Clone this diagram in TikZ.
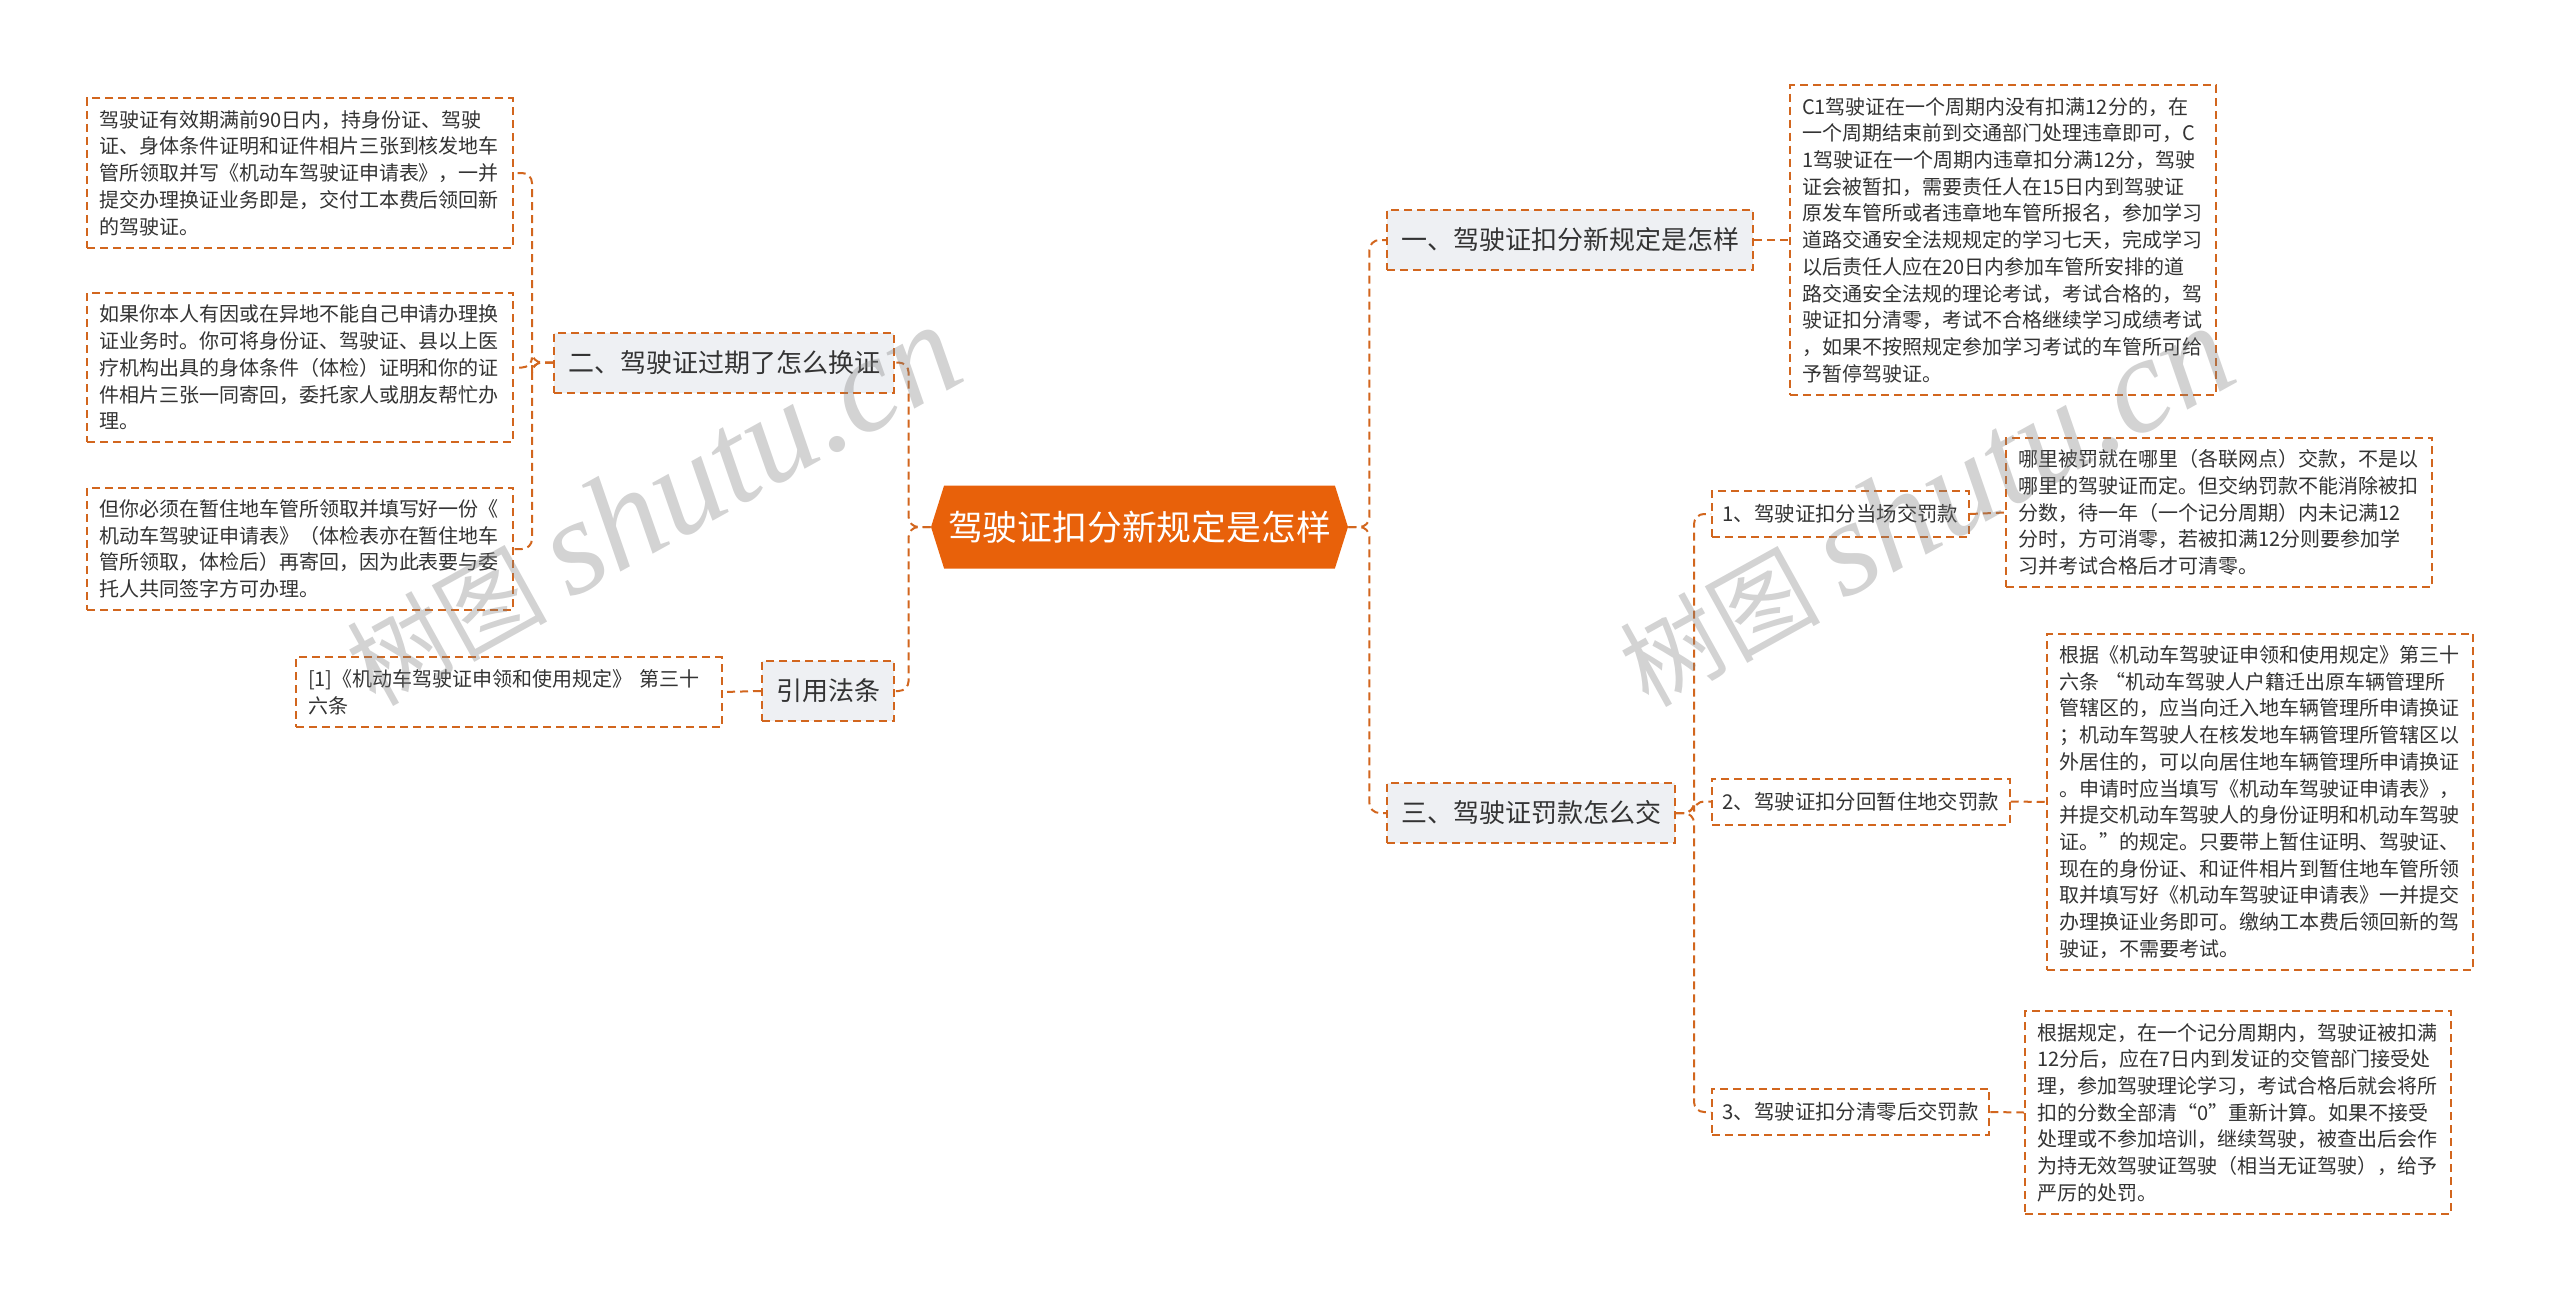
\documentclass[tikz,border=0pt]{standalone}
\usepackage{fontspec}
\setmainfont{Noto Sans CJK SC}
\newfontfamily\wmfont{Liberation Serif}
\usetikzlibrary{shapes.symbols}

\definecolor{lineorange}{HTML}{D2661E}
\definecolor{rootorange}{HTML}{E8610A}
\definecolor{branchgray}{HTML}{EEF0F3}
\definecolor{txtgray}{HTML}{333333}

\tikzset{
	dashline/.style={lineorange, line width=1pt, dash pattern=on 4pt off 2.5pt},
	link/.style={dashline, rounded corners=5pt},
	rootnode/.style={shape=signal, signal to=west and east, signal pointer angle=145,
		fill=rootorange, text=white, font=\fontsize{17.4}{20}\selectfont,
		minimum width=208pt, minimum height=41.5pt, inner xsep=2pt},
	branch/.style={draw, dashline, fill=branchgray, text=txtgray,
		font=\fontsize{13}{16}\selectfont, inner xsep=7pt, minimum height=30pt},
	subbranch/.style={draw, dashline, fill=white, text=txtgray,
		font=\fontsize{10.2}{12}\selectfont, inner xsep=5.3pt, minimum height=23pt},
	leaf/.style={draw, dashline, fill=white, text=txtgray, align=left,
		text width=201pt, font=\fontsize{10}{13.35}\selectfont, inner xsep=6pt, inner ysep=6pt},
	watermark/.style={text=gray, opacity=0.35, rotate=29}
}

\begin{document}
\begin{tikzpicture}[x=0.5pt,y=-0.5pt]
	\useasboundingbox (0,0) rectangle (2560,1301);

	\node[rootnode] (root) at (1139.5,527) {驾驶证扣分新规定是怎样};

	\node[branch, anchor=west] (b1) at (1386,240) {一、驾驶证扣分新规定是怎样};
	\node[branch, anchor=east] (b2) at (895,362.5) {二、驾驶证过期了怎么换证};
	\node[branch, anchor=west] (b3) at (1386,813) {三、驾驶证罚款怎么交};
	\node[branch, anchor=east] (b4) at (895,691) {引用法条};

	\node[leaf, anchor=east] (l1) at (514,173) {驾驶证有效期满前90日内，持身份证、驾驶\\证、身体条件证明和证件相片三张到核发地车\\管所领取并写《机动车驾驶证申请表》，一并\\提交办理换证业务即是，交付工本费后领回新\\的驾驶证。};
	\node[leaf, anchor=east] (l2) at (514,367.5) {如果你本人有因或在异地不能自己申请办理换\\证业务时。你可将身份证、驾驶证、县以上医\\疗机构出具的身体条件（体检）证明和你的证\\件相片三张一同寄回，委托家人或朋友帮忙办\\理。};
	\node[leaf, anchor=east] (l3) at (514,549) {但你必须在暂住地车管所领取并填写好一份《\\机动车驾驶证申请表》（体检表亦在暂住地车\\管所领取，体检后）再寄回，因为此表要与委\\托人共同签字方可办理。};
	\node[leaf, anchor=east] (ref) at (723,692) {[1]《机动车驾驶证申领和使用规定》 第三十\\六条};

	\node[leaf, anchor=west] (r0) at (1789,240) {C1驾驶证在一个周期内没有扣满12分的，在\\一个周期结束前到交通部门处理违章即可，C\\1驾驶证在一个周期内违章扣分满12分，驾驶\\证会被暂扣，需要责任人在15日内到驾驶证\\原发车管所或者违章地车管所报名，参加学习\\道路交通安全法规规定的学习七天，完成学习\\以后责任人应在20日内参加车管所安排的道\\路交通安全法规的理论考试，考试合格的，驾\\驶证扣分清零，考试不合格继续学习成绩考试\\，如果不按照规定参加学习考试的车管所可给\\予暂停驾驶证。};

	\node[subbranch, anchor=west] (s1) at (1711,514) {1、驾驶证扣分当场交罚款};
	\node[subbranch, anchor=west] (s2) at (1711,801.5) {2、驾驶证扣分回暂住地交罚款};
	\node[subbranch, anchor=west] (s3) at (1711,1112) {3、驾驶证扣分清零后交罚款};

	\node[leaf, anchor=west] (r1) at (2005,512.5) {哪里被罚就在哪里（各联网点）交款，不是以\\哪里的驾驶证而定。但交纳罚款不能消除被扣\\分数，待一年（一个记分周期）内未记满12\\分时，方可消零，若被扣满12分则要参加学\\习并考试合格后才可清零。};
	\node[leaf, anchor=west] (r2) at (2046,802) {根据《机动车驾驶证申领和使用规定》第三十\\六条 “机动车驾驶人户籍迁出原车辆管理所\\管辖区的，应当向迁入地车辆管理所申请换证\\；机动车驾驶人在核发地车辆管理所管辖区以\\外居住的，可以向居住地车辆管理所申请换证\\。申请时应当填写《机动车驾驶证申请表》，\\并提交机动车驾驶人的身份证明和机动车驾驶\\证。”的规定。只要带上暂住证明、驾驶证、\\现在的身份证、和证件相片到暂住地车管所领\\取并填写好《机动车驾驶证申请表》一并提交\\办理换证业务即可。缴纳工本费后领回新的驾\\驶证，不需要考试。};
	\node[leaf, anchor=west] (r3) at (2024,1112.5) {根据规定，在一个记分周期内，驾驶证被扣满\\12分后，应在7日内到发证的交管部门接受处\\理，参加驾驶理论学习，考试合格后就会将所\\扣的分数全部清“0”重新计算。如果不接受\\处理或不参加培训，继续驾驶，被查出后会作\\为持无效驾驶证驾驶（相当无证驾驶），给予\\严厉的处罚。};

	\draw[link] (root.east) -- ++(21,0) |- (b1.west);
	\draw[link] (root.east) -- ++(21,0) |- (b3.west);
	\draw[link] (root.west) -- ++(-22,0) |- (b2.east);
	\draw[link] (root.west) -- ++(-22,0) |- (b4.east);

	\draw[link] (b2.west) -- ++(-21,0) |- (l1.east);
	\draw[link] (b2.west) -- ++(-21,0) |- (l2.east);
	\draw[link] (b2.west) -- ++(-21,0) |- (l3.east);
	\draw[link] (b4.west) -- (ref.east);

	\draw[link] (b1.east) -- (r0.west);
	\draw[link] (b3.east) -- ++(18,0) |- (s1.west);
	\draw[link] (b3.east) -- ++(18,0) |- (s2.west);
	\draw[link] (b3.east) -- ++(18,0) |- (s3.west);
	\draw[link] (s1.east) -- (r1.west);
	\draw[link] (s2.east) -- (r2.west);
	\draw[link] (s3.east) -- (r3.west);

	\node[watermark] (wm1) at (652,505) {\fontsize{50}{50}\selectfont 树图 \wmfont\itshape\fontsize{68}{68}\selectfont shutu.cn};
	\node[watermark] (wm2) at (1925,506) {\fontsize{50}{50}\selectfont 树图 \wmfont\itshape\fontsize{68}{68}\selectfont shutu.cn};
\end{tikzpicture}
\end{document}
